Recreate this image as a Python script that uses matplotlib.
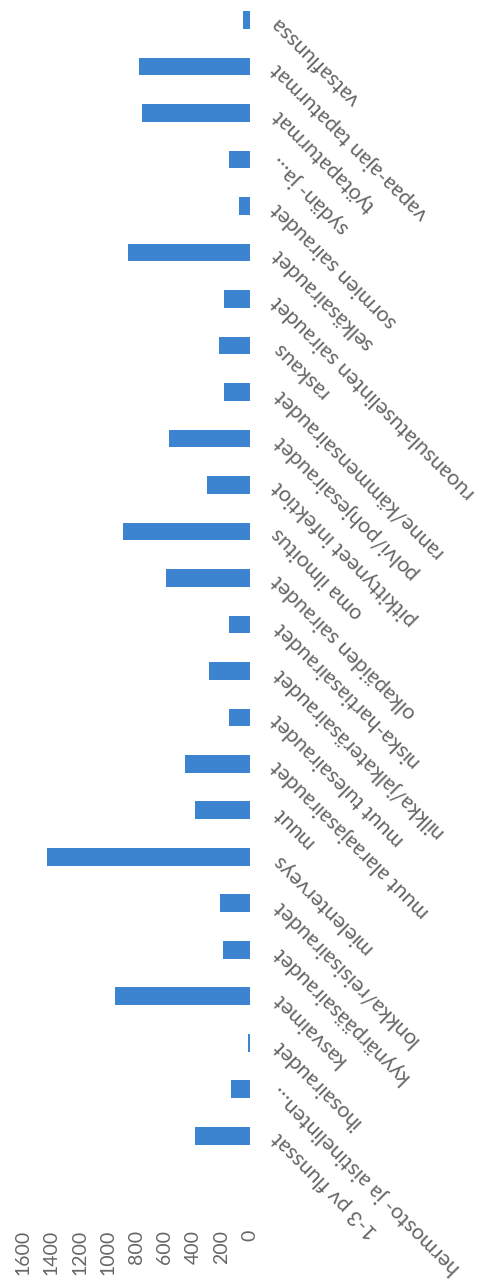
import matplotlib.pyplot as plt

# categories in chart order (first one is drawn at the bottom)
categories = ["1-3 pv flunssat", "hermosto- ja aistinelinten…", "ihosairaudet",
              "kasvaimet", "kyynärpääsairaudet", "lonkka/reisisairaudet",
              "mielenterveys", "muut", "muut alaraajasairaudet",
              "muut tulesairaudet", "nilkka/jalkateräsairaudet",
              "niska-hartiasairaudet", "olkapäiden sairaudet", "oma ilmoitus",
              "pitkittyneet infektiot", "polvi/pohjesairaudet",
              "ranne/kämmensairaudet", "raskaus",
              "ruoansulatuselinten sairaudet", "selkäsairaudet",
              "sormien sairaudet", "sydän- ja…", "työtapaturmat",
              "vapaa-ajan tapaturmat", "vatsaflunssa"]
values = [390, 134, 17, 954, 187, 213, 1434, 390, 461, 151, 289, 145, 594,
          894, 300, 571, 180, 222, 181, 861, 78, 151, 762, 781, 49]
ticks = [0, 200, 400, 600, 800, 1000, 1200, 1400, 1600]

plt.rcParams['font.family'] = ['Lato', 'DejaVu Sans']
txt = '#666666'

fig = plt.figure(figsize=(4.97, 12.86), dpi=100)
ax = fig.add_axes([23/497, 1 - 1159/1286, (250 - 23)/497, 1159/1286])

pos = list(range(len(categories)))
ax.barh(pos, values, height=0.38, color='#3c84d0')

ax.set_xlim(1600, 0)
ax.set_ylim(-0.5, 24.43)
ax.set_xticks(ticks)
ax.set_xticklabels([str(t) for t in ticks], rotation=90, va='top',
                   ha='center', color=txt, fontsize=14)
ax.tick_params(axis='x', length=0, pad=51)

ax.yaxis.tick_right()
ax.set_yticks(pos)
ax.set_yticklabels(categories, color=txt, fontsize=15.5)
for lab in ax.get_yticklabels():
    lab.set_rotation(135)
    lab.set_rotation_mode('anchor')
    lab.set_ha('right')
    lab.set_va('center')
ax.tick_params(axis='y', length=0, pad=18)

for s in ax.spines.values():
    s.set_visible(False)

fig.savefig('out.png', dpi=100)
